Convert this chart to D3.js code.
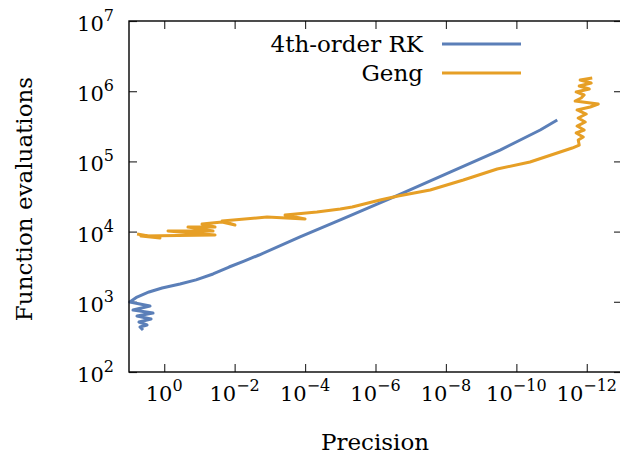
<!DOCTYPE html>
<html>
<head>
<meta charset="utf-8">
<script src="https://cdn.jsdelivr.net/npm/d3@7"></script>
<style>
  body { margin: 0; background: #fff; }
  text { font-family: "DejaVu Serif", serif; fill: #000; }
</style>
</head>
<body>
<svg id="chart" width="620" height="459"></svg>
<script>
var rkPrecision = [4.0, 4.87, 3.08, 5.2, 2.37, 5.93, 2.08, 7.7, 2.53, 9.5, 5.93, 2.7, 1.15,
	0.356, 0.125, 0.041, 0.0144, 5.4e-3, 2.03e-3, 1.39e-4, 8.9e-6, 2.28e-7, 7.6e-9, 2.9e-10, 2.1e-11, 6.9e-12];
var rkEvals = [396, 438, 468, 515, 569, 628, 692, 764, 871, 993, 1170, 1380, 1570,
	1795, 2050, 2490, 3130, 3810, 4640, 8380, 15100, 33200, 70600, 145000, 280000, 389000];

var gengPrecision = [5.9, 1.32, 4.56, 0.036, 0.78, 0.041, 0.211, 0.036, 0.0843, 0.0228, 9.8e-3, 0.0228,
	1.2e-3, 1e-4, 3.7e-4, 4.6e-5, 1.0e-5, 4.6e-6, 7.4e-7, 2.28e-7, 2.8e-8, 3.2e-9, 3.5e-10, 4.1e-11,
	5.7e-12, 2.6e-12, 1.64e-12, 1.75e-12, 1.26e-12, 2.0e-12, 1.19e-12, 1.88e-12, 1.11e-12, 1.75e-12,
	1.04e-12, 1.88e-12, 8.0e-13, 4.74e-13, 2.14e-12, 1.44e-12, 1.19e-12, 2.0e-12, 8.5e-13, 1.64e-12,
	7.5e-13, 1.54e-12, 7.0e-13];
var gengEvals = [9240, 8110, 8650, 8950, 10200, 10200, 11600, 11600, 12800, 13700, 12400, 14200,
	16100, 15100, 17200, 19000, 21000, 22400, 28200, 32100, 39100, 54300, 78000, 98000,
	136000, 155000, 171000, 202000, 223000, 254000, 280000, 319000, 364000, 415000,
	473000, 540000, 596000, 657000, 725000, 800000, 883000, 975000, 1075000, 1186000,
	1309000, 1444000, 1542000];

var xTicks = [1, 1e-2, 1e-4, 1e-6, 1e-8, 1e-10, 1e-12];
var yTicks = [1e2, 1e3, 1e4, 1e5, 1e6, 1e7];
var seriesNames = ["4th-order RK", "Geng"];
var seriesColors = ["#5b7fb8", "#e69f26"];

var svg = d3.select("#chart");
var pLeft = 129, pRight = 622, pTop = 21, pBottom = 372;

var x = d3.scaleLog().domain([10, 1e-13]).range([pLeft, pRight]);
var y = d3.scaleLog().domain([1e2, 1e7]).range([pBottom, pTop]);

var minus = "\u2212";
function expOf(v) { return Math.round(Math.log10(v)); }
function supText(sel, v) {
	var e = expOf(v);
	sel.append("tspan").text("10");
	sel.append("tspan").attr("dy", -10).attr("font-size", 16)
		.text(e < 0 ? minus + (-e) : e);
}

// axes, ticks pointing inward
svg.append("g").attr("transform", "translate(0," + pBottom + ")")
	.call(d3.axisBottom(x).tickValues(xTicks).tickSize(-8).tickFormat(""));
svg.append("g").attr("transform", "translate(0," + pTop + ")")
	.call(d3.axisTop(x).tickValues(xTicks).tickSize(-8).tickFormat(""));
svg.append("g").attr("transform", "translate(" + pLeft + ",0)")
	.call(d3.axisLeft(y).tickValues(yTicks).tickSize(-8).tickFormat(""));
svg.append("g").attr("transform", "translate(" + pRight + ",0)")
	.call(d3.axisRight(y).tickValues(yTicks).tickSize(-8).tickFormat(""));
svg.selectAll(".domain").remove();
svg.selectAll(".tick line").attr("stroke", "#333").attr("stroke-width", 1.2);

svg.selectAll(".xlab").data(xTicks).join("text")
	.attr("class", "xlab")
	.attr("x", d => x(d)).attr("y", 401)
	.attr("text-anchor", "middle").attr("font-size", 21)
	.each(function(d) { supText(d3.select(this), d); });

svg.selectAll(".ylab").data(yTicks).join("text")
	.attr("class", "ylab")
	.attr("x", 114).attr("y", d => y(d) + 10)
	.attr("text-anchor", "end").attr("font-size", 21)
	.each(function(d) { supText(d3.select(this), d); });

// lines
var line = d3.line().x(d => x(d[0])).y(d => y(d[1]));
var series = [d3.zip(rkPrecision, rkEvals), d3.zip(gengPrecision, gengEvals)];

svg.append("g").selectAll("path").data(series).join("path")
	.attr("d", line)
	.attr("fill", "none")
	.attr("stroke", (d, i) => seriesColors[i])
	.attr("stroke-width", 3)
	.attr("stroke-linejoin", "round");

// frame
svg.append("rect")
	.attr("x", pLeft).attr("y", pTop)
	.attr("width", pRight - pLeft).attr("height", pBottom - pTop)
	.attr("fill", "none").attr("stroke", "#000").attr("stroke-width", 1.4);

// legend
var legend = svg.append("g").selectAll("g").data(seriesNames).join("g")
	.attr("transform", (d, i) => "translate(0," + (44 + i * 29) + ")");
legend.append("line")
	.attr("x1", 442).attr("x2", 521)
	.attr("stroke", (d, i) => seriesColors[i]).attr("stroke-width", 3);
legend.append("text")
	.attr("x", 423).attr("y", 8)
	.attr("text-anchor", "end").attr("font-size", 23)
	.text(d => d);

// axis titles
svg.append("text")
	.attr("x", 375).attr("y", 450)
	.attr("text-anchor", "middle").attr("font-size", 23)
	.text("Precision");
svg.append("text")
	.attr("transform", "translate(32,199) rotate(-90)")
	.attr("text-anchor", "middle").attr("font-size", 23)
	.text("Function evaluations");
</script>
</body>
</html>
